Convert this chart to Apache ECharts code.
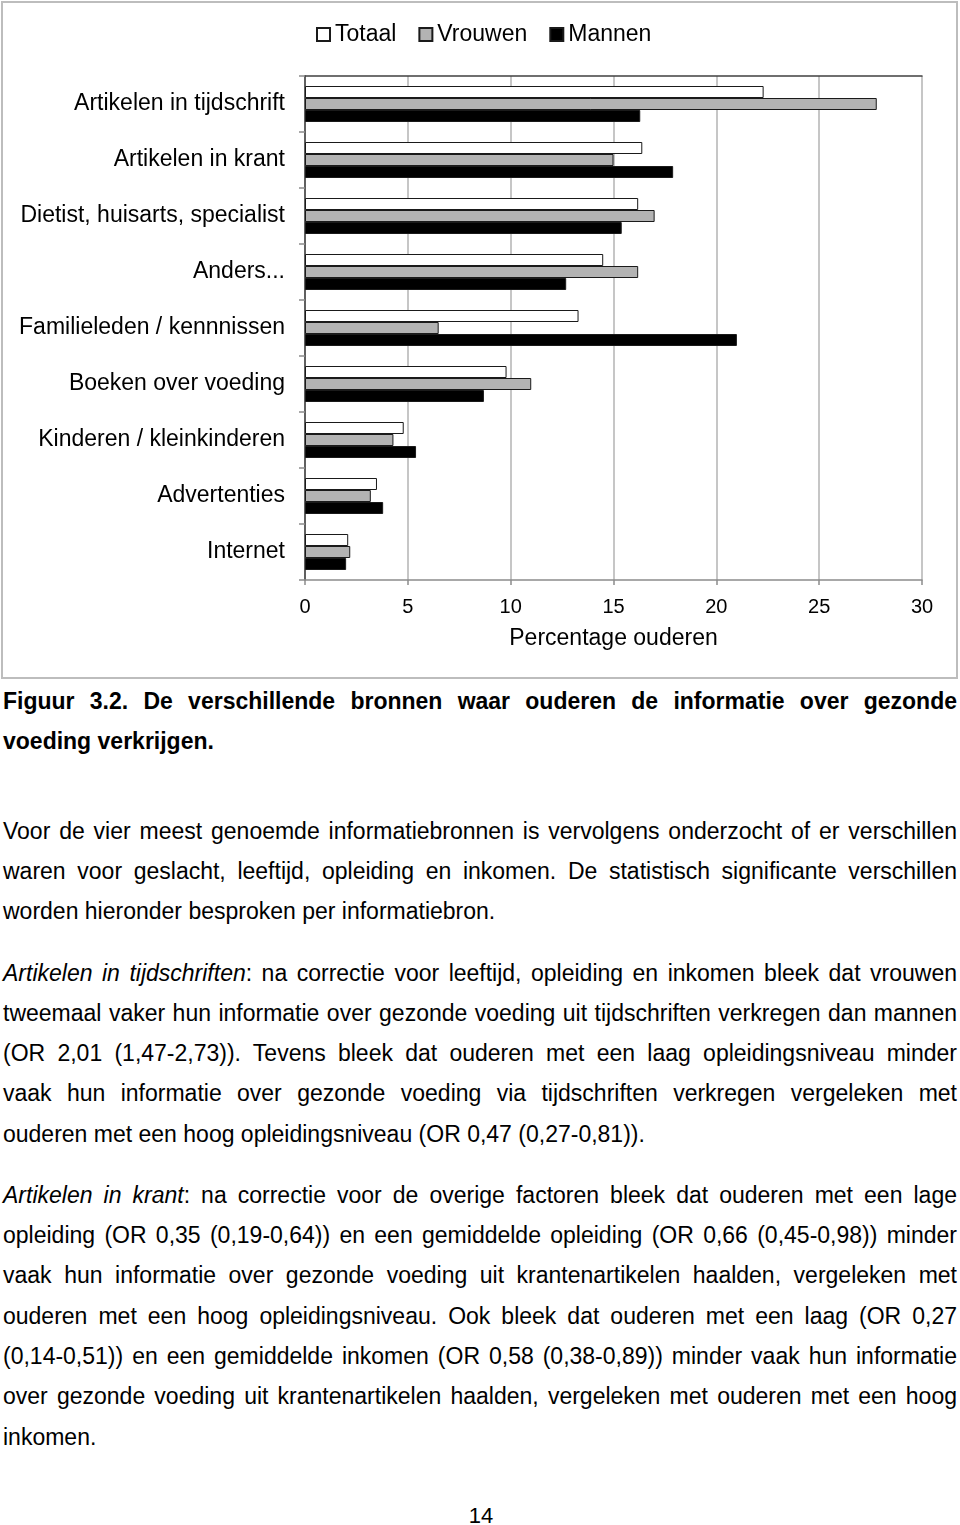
<!DOCTYPE html>
<html>
<head>
<meta charset="utf-8">
<script src="https://cdn.jsdelivr.net/npm/echarts@6/dist/echarts.min.js"></script>
<style>
  html, body { margin: 0; padding: 0; background: #fff; }
  #page { position: relative; width: 960px; height: 1525px; overflow: hidden; background: #fff; }
  #chart { position: absolute; left: 0; top: 0; width: 960px; height: 682px; }
  .ln { position: absolute; left: 3px; width: 954px; height: 30px; line-height: 30px;
        font-family: "Liberation Sans", Arial, sans-serif; font-size: 23px; color: #000;
        white-space: nowrap; }
  .ln span.t { display: inline-block; }
  .b { font-weight: bold; }
  #pnum { position: absolute; left: 0; width: 962px; top: 1501px; text-align: center;
          font-family: "Liberation Sans", Arial, sans-serif; font-size: 22px; line-height: 30px; color: #000; }
</style>
</head>
<body>
<div id="page">
  <div id="chart"></div>
  <div id="text"></div>
  <div id="pnum">14</div>
</div>
<script>
// ---- chart data ----
var categories = [
  'Artikelen in tijdschrift',
  'Artikelen in krant',
  'Dietist, huisarts, specialist',
  'Anders...',
  'Familieleden / kennnissen',
  'Boeken over voeding',
  'Kinderen / kleinkinderen',
  'Advertenties',
  'Internet'
];
var seriesNames = ['Totaal', 'Vrouwen', 'Mannen'];
var totaal  = [22.3, 16.4, 16.2, 14.5, 13.3, 9.8, 4.8, 3.5, 2.1];
var vrouwen = [27.8, 15.0, 17.0, 16.2, 6.5, 11.0, 4.3, 3.2, 2.2];
var mannen  = [16.3, 17.9, 15.4, 12.7, 21.0, 8.7, 5.4, 3.8, 2.0];
var axisName = 'Percentage ouderen';

// ---- page text (one entry per printed line; j = justified) ----
var textLines = [
  {y: 701, b: true, j: true,  h: 'Figuur 3.2. De verschillende bronnen waar ouderen de informatie over gezonde'},
  {y: 741, b: true, j: false, h: 'voeding verkrijgen.'},
  {y: 831, j: true,  h: 'Voor de vier meest genoemde informatiebronnen is vervolgens onderzocht of er verschillen'},
  {y: 871, j: true,  h: 'waren voor geslacht, leeftijd, opleiding en inkomen. De statistisch significante verschillen'},
  {y: 911, j: false, h: 'worden hieronder besproken per informatiebron.'},
  {y: 973, j: true,  h: '<i>Artikelen in tijdschriften</i>: na correctie voor leeftijd, opleiding en inkomen bleek dat vrouwen'},
  {y: 1013, j: true, h: 'tweemaal vaker hun informatie over gezonde voeding uit tijdschriften verkregen dan mannen'},
  {y: 1053, j: true, h: '(OR 2,01 (1,47-2,73)). Tevens bleek dat ouderen met een laag opleidingsniveau minder'},
  {y: 1093, j: true, h: 'vaak hun informatie over gezonde voeding via tijdschriften verkregen vergeleken met'},
  {y: 1134, j: false, h: 'ouderen met een hoog opleidingsniveau (OR 0,47 (0,27-0,81)).'},
  {y: 1195, j: true, h: '<i>Artikelen in krant</i>: na correctie voor de overige factoren bleek dat ouderen met een lage'},
  {y: 1235, j: true, h: 'opleiding (OR 0,35 (0,19-0,64)) en een gemiddelde opleiding (OR 0,66 (0,45-0,98)) minder'},
  {y: 1275, j: true, h: 'vaak hun informatie over gezonde voeding uit krantenartikelen haalden, vergeleken met'},
  {y: 1316, j: true, h: 'ouderen met een hoog opleidingsniveau. Ook bleek dat ouderen met een laag (OR 0,27'},
  {y: 1356, j: true, h: '(0,14-0,51)) en een gemiddelde inkomen (OR 0,58 (0,38-0,89)) minder vaak hun informatie'},
  {y: 1396, j: true, h: 'over gezonde voeding uit krantenartikelen haalden, vergeleken met ouderen met een hoog'},
  {y: 1437, j: false, h: 'inkomen.'}
];

var FONT = '"Liberation Sans", Arial, sans-serif';

function buildText() {
  var host = document.getElementById('text');
  host.innerHTML = '';
  textLines.forEach(function (L) {
    var d = document.createElement('div');
    d.className = 'ln' + (L.b ? ' b' : '');
    d.style.top = (L.y - 15) + 'px';
    var s = document.createElement('span');
    s.className = 't';
    s.innerHTML = L.h;
    d.appendChild(s);
    host.appendChild(d);
    if (L.j) {
      var w = s.getBoundingClientRect().width;
      var n = (s.textContent.match(/ /g) || []).length;
      if (n > 0) {
        d.style.wordSpacing = ((954 - w) / n) + 'px';
      }
    }
  });
}
buildText();
if (document.fonts && document.fonts.ready) { document.fonts.ready.then(buildText); }

var chart = echarts.init(document.getElementById('chart'), null, {renderer: 'canvas'});
var borderCol = '#1a1a1a';
var option = {
  backgroundColor: '#fff',
  animation: false,
  textStyle: {fontFamily: FONT},
  graphic: [{
    type: 'rect',
    silent: true,
    shape: {x: 2, y: 2, width: 955, height: 676},
    style: {fill: null, stroke: '#bdbdbd', lineWidth: 2}
  }],
  legend: {
    data: seriesNames,
    left: 316,
    top: 23,
    padding: 0,
    itemWidth: 13,
    itemHeight: 13,
    itemGap: 22,
    icon: 'rect',
    textStyle: {fontSize: 23, color: '#000', fontFamily: FONT}
  },
  grid: {left: 305, right: 38, top: 76, bottom: 102, containLabel: false},
  xAxis: [{
    type: 'value',
    position: 'bottom',
    min: 0, max: 30, interval: 5,
    axisLine: {show: true, lineStyle: {color: '#8c8c8c', width: 1.5}},
    axisTick: {show: true, length: 5, lineStyle: {color: '#8c8c8c', width: 1.5}},
    axisLabel: {fontSize: 20, color: '#000', margin: 17, fontFamily: FONT},
    splitLine: {show: true, lineStyle: {color: '#b3b3b3', width: 1.5}},
    name: axisName,
    nameLocation: 'middle',
    nameGap: 47,
    nameTextStyle: {fontSize: 23, color: '#000', fontFamily: FONT}
  }, {
    type: 'value',
    position: 'top',
    min: 0, max: 30, interval: 5,
    axisLine: {show: true, lineStyle: {color: '#404040', width: 1.5}},
    axisTick: {show: false},
    axisLabel: {show: false},
    splitLine: {show: false}
  }],
  yAxis: [{
    type: 'category',
    inverse: true,
    data: categories,
    axisLine: {show: true, lineStyle: {color: '#8c8c8c', width: 1.5}},
    axisTick: {show: true, length: 6, lineStyle: {color: '#8c8c8c', width: 1.5}},
    axisLabel: {fontSize: 23, color: '#000', margin: 20, fontFamily: FONT},
    splitLine: {show: false}
  }, {
    type: 'category',
    position: 'right',
    inverse: true,
    data: categories,
    axisLine: {show: true, lineStyle: {color: '#4d4d4d', width: 1.5}},
    axisTick: {show: false},
    axisLabel: {show: false},
    splitLine: {show: false}
  }],
  series: [{
    name: seriesNames[0], type: 'bar', xAxisIndex: 0, yAxisIndex: 0,
    data: totaal, barWidth: 12, barGap: '0%',
    itemStyle: {color: '#ffffff', borderColor: borderCol, borderWidth: 1}
  }, {
    name: seriesNames[1], type: 'bar', xAxisIndex: 0, yAxisIndex: 0,
    data: vrouwen, barWidth: 12, barGap: '0%',
    itemStyle: {color: '#b3b3b3', borderColor: borderCol, borderWidth: 1}
  }, {
    name: seriesNames[2], type: 'bar', xAxisIndex: 0, yAxisIndex: 0,
    data: mannen, barWidth: 12, barGap: '0%',
    itemStyle: {color: '#000000', borderColor: borderCol, borderWidth: 1}
  }]
};
chart.setOption(option);
</script>
</body>
</html>
